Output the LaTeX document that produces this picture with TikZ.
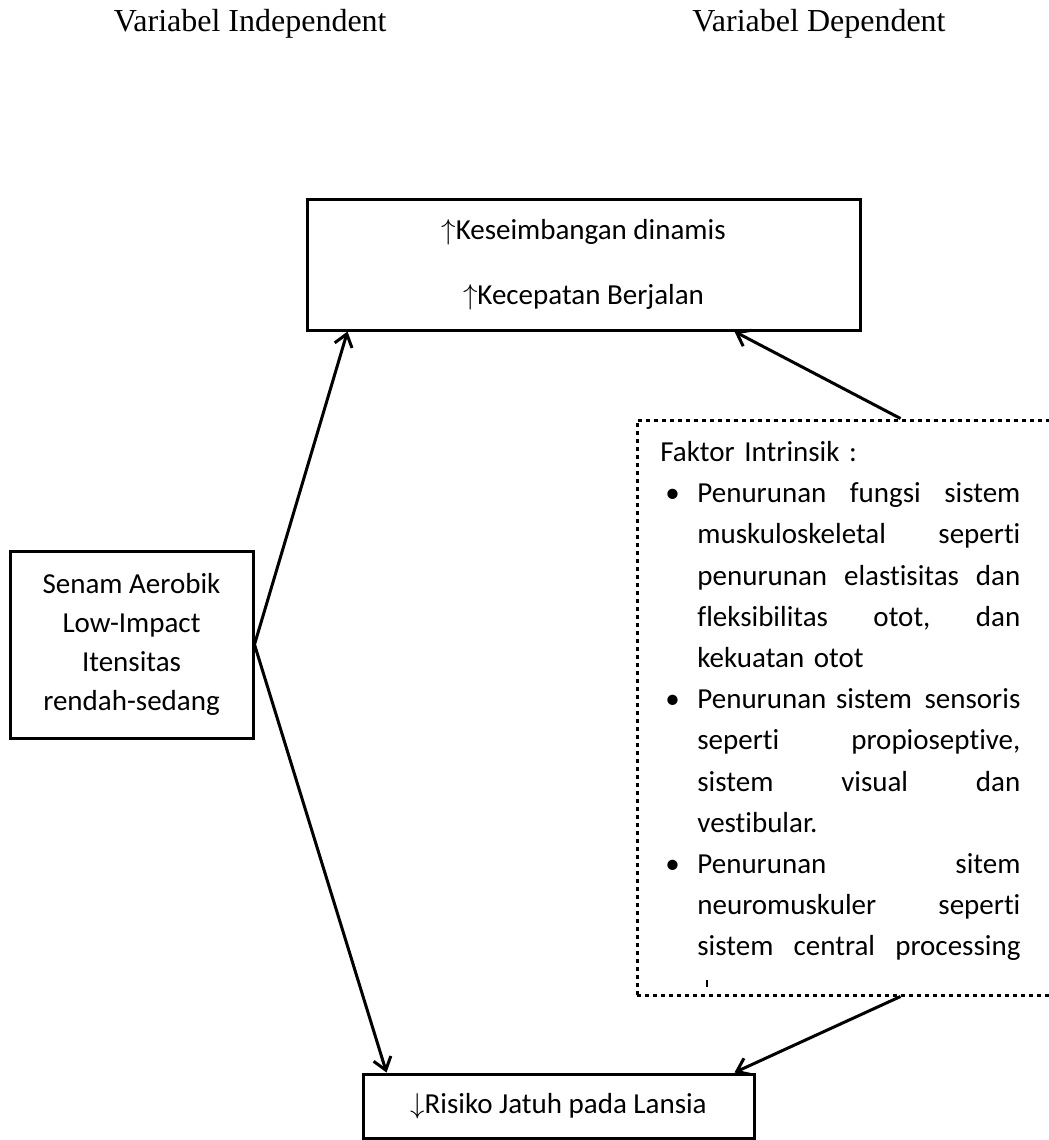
\documentclass[tikz,border=0pt]{standalone}
\usepackage{fontspec}
\setmainfont{Carlito}[Ligatures=NoCommon]
\newfontfamily\titlefont{Liberation Serif}
\usetikzlibrary{arrows.meta}
\newcommand{\itm}[1]{\makebox[18.5pt][l]{\hspace{2.5pt}\textbullet}\makebox[161.5pt]{#1}}
\newcommand{\cnt}[1]{\hspace*{18.5pt}\makebox[161.5pt]{#1}}
\newcommand{\lst}[1]{\hspace*{18.5pt}#1}
\begin{document}
\begin{tikzpicture}[x=0.5pt,y=-0.5pt,
  box/.style={draw, line width=1.5pt, inner sep=0pt, align=center, font=\fontsize{14.5}{19.5}\selectfont},
  dotbox/.style={draw, line width=1.5pt, dash pattern=on 2pt off 2pt, inner sep=0pt},
  title/.style={anchor=east, inner sep=0pt, font=\titlefont\fontsize{16}{18}\selectfont},
  link/.style={line width=1.5pt, -{Straight Barb[length=6pt,width=9pt]}}]
\useasboundingbox (0,0) rectangle (1049,1140);
\node[title] (indep) at (387,24) {Variabel Independent};
\node[title] (dep) at (946,24) {Variabel Dependent};
\node[box, minimum width=276.5pt, minimum height=65.5pt, font=\fontsize{14.5}{32.5}\selectfont] (outc) at (583.5,264.5) {$\uparrow$Keseimbangan dinamis\\$\uparrow$Kecepatan Berjalan};
\node[box, minimum width=121.5pt, minimum height=93.5pt] (senam) at (131.5,644.5) {Senam Aerobik\\Low-Impact\\Itensitas\\rendah-sedang};
\node[box, minimum width=195.5pt, minimum height=32pt] (risk) at (558.5,1106) {$\downarrow$Risiko Jatuh pada Lansia};
\node[dotbox, minimum width=211.5pt, minimum height=287.5pt] (intr) at (848.5,707.5) {};
\node[anchor=north west, inner sep=0pt, text width=180pt, align=left, font=\fontsize{14.5}{20.6}\selectfont] (intrtext) at (660,441) {Faktor Intrinsik :\\
\itm{Penurunan\hfill fungsi\hfill sistem}\\
\cnt{muskuloskeletal\hfill seperti}\\
\cnt{penurunan\hfill elastisitas\hfill dan}\\
\cnt{fleksibilitas\hfill otot,\hfill dan}\\
\lst{kekuatan otot}\\
\itm{Penurunan sistem\hfill sensoris}\\
\cnt{seperti\hfill propioseptive,}\\
\cnt{sistem\hfill visual\hfill dan}\\
\lst{vestibular.}\\
\itm{Penurunan\hfill sitem}\\
\cnt{neuromuskuler\hfill seperti}\\
\cnt{sistem\hfill central\hfill processing}};
\draw[line width=1pt] (707,980) -- (707,987);

\path[draw,link] (senam.east) -- ([xshift=21pt]outc.south west);
\path[draw,link] (senam.east) -- ([xshift=12.5pt]risk.north west);
\path[draw,link] ([xshift=132.5pt]intr.north west) -- ([xshift=-63.5pt]outc.south east);
\path[draw,link] ([xshift=132.5pt]intr.south west) -- ([xshift=-10.5pt]risk.north east);
\end{tikzpicture}
\end{document}
